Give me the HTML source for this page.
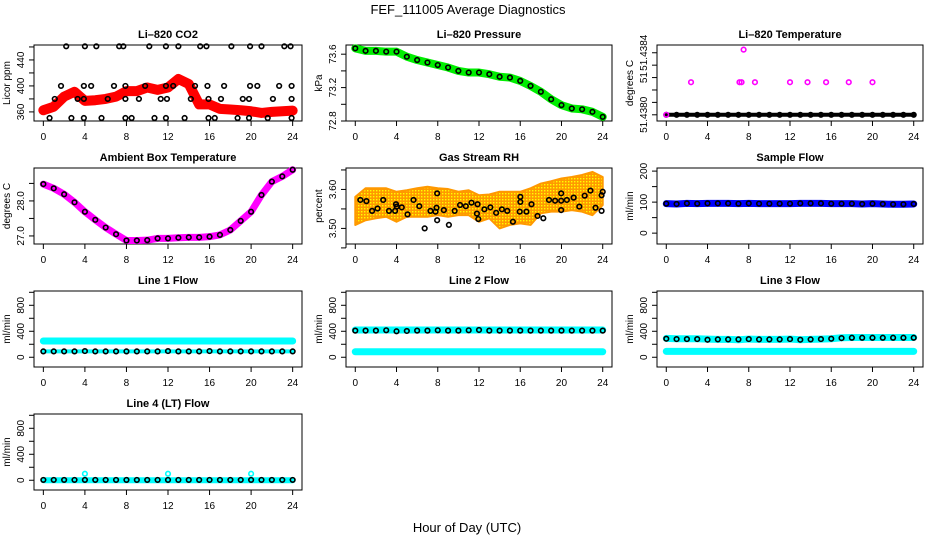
<!DOCTYPE html>
<html><head><meta charset="utf-8"><style>
body{margin:0;background:#fff}
svg{display:block;font-family:"Liberation Sans",sans-serif}
</style></head><body>
<svg id="c" width="936" height="540" viewBox="0 0 936 540">
<defs><pattern id="dots" width="3" height="3" patternUnits="userSpaceOnUse"><rect width="3" height="3" fill="#ff9900"/><rect x="1" y="1" width="1.4" height="1.4" fill="#ffff00"/></pattern></defs>
<text x="468" y="14" font-size="13" text-anchor="middle">FEF_111005  Average Diagnostics</text>
<text x="467" y="532" font-size="13" text-anchor="middle">Hour of Day (UTC)</text>
</svg>
<script>
const hours=[0,1,2,3,4,5,6,7,8,9,10,11,12,13,14,15,16,17,18,19,20,21,22,23,24];
const xTicks=[0,4,8,12,16,20,24];
const co2Red=[362.6,368,383.5,391,377,378,380,383.5,392,392,397.6,394,397.6,410.7,403,371.5,371.5,364.7,363.7,362.6,361,358.4,360,361,362];
const co2Hi=[2.2,4,5.1,7.3,7.7,10.2,11.8,13,15.1,15.7,18.1,19.9,21,23.2,23.8];
const co2Mid=[1.7,3.9,4.6,6.8,7.9,9.8,11.8,12.5,14.6,15.8,17.4,19.9,20.6,22.7,23.9];
const co2Low=[1.1,3.3,3.9,6.2,7.9,9.2,11.3,11.9,14.2,15.9,17.1,19.2,19.8,22.1,23.9];
const co2Bot=[0.6,2.7,3.9,5.6,7.9,8.5,10.7,11.8,13.6,15.9,16.5,18.7,19.8,21.6,23.9];
const co2Levels=[461,400,380,350.6];
const pressure=[73.67,73.64,73.64,73.63,73.63,73.57,73.53,73.50,73.47,73.44,73.40,73.38,73.38,73.36,73.33,73.32,73.28,73.22,73.15,73.06,72.99,72.95,72.94,72.91,72.85];
const licorTempBase=[51.4380,51.4380,51.4380,51.4380,51.4380,51.4380,51.4380,51.4380,51.4380,51.4380,51.4380,51.4380,51.4380,51.4380,51.4380,51.4380,51.4380,51.4380,51.4380,51.4380,51.4380,51.4380,51.4380,51.4380,51.4380];
const licorTempSpikeHours=[2.4,7.1,7.3,8.6,12,13.7,15.5,17.7,20,7.5];
const licorTempSpikeVals=[51.43821,51.43821,51.43821,51.43821,51.43821,51.43821,51.43821,51.43821,51.43821,51.43842];
const ambient=[28.48,28.36,28.19,27.96,27.69,27.46,27.24,27.05,26.87,26.87,26.88,26.93,26.93,26.95,26.96,26.96,26.98,27.03,27.17,27.43,27.69,28.17,28.55,28.70,28.89];
const rhUpper=[3.581,3.603,3.603,3.603,3.594,3.598,3.603,3.607,3.603,3.601,3.594,3.598,3.585,3.587,3.594,3.594,3.594,3.603,3.615,3.621,3.628,3.632,3.637,3.645,3.632];
const rhLower=[3.509,3.521,3.526,3.530,3.517,3.530,3.530,3.530,3.534,3.530,3.534,3.534,3.517,3.526,3.500,3.509,3.513,3.509,3.539,3.543,3.543,3.547,3.543,3.534,3.560];
const rhHours=[0.49,1.08,1.63,2.16,2.71,3.27,3.86,3.95,4.02,4.51,5.07,5.65,6.21,6.73,7.29,7.78,7.88,7.94,7.94,8.59,9.08,9.64,10.16,10.72,11.27,11.8,11.86,11.93,12.52,13.1,13.66,14.22,14.74,15.29,15.95,16.01,16.01,16.6,17.09,17.68,18.24,18.79,19.38,19.97,19.97,19.97,20.52,21.18,21.73,22.25,22.81,23.3,23.89,23.89,24.0];
const rhVals=[3.573,3.570,3.545,3.551,3.573,3.545,3.545,3.562,3.556,3.554,3.536,3.573,3.557,3.500,3.545,3.543,3.553,3.521,3.590,3.547,3.509,3.545,3.560,3.557,3.566,3.538,3.562,3.524,3.549,3.554,3.540,3.549,3.545,3.517,3.543,3.568,3.581,3.543,3.562,3.532,3.526,3.573,3.571,3.590,3.547,3.571,3.573,3.579,3.556,3.584,3.597,3.553,3.545,3.585,3.594];
const sampleFlow=[95,94,96,95,96,96,96,95,96,95,95,95,95,96,96,96,95,95,95,94,95,94,93,93,94];
const line1Cyan=[250,250,250,250,250,250,250,250,250,250,250,250,250,250,250,250,250,250,250,250,250,250,250,250,250];
const line1Black=[90,90,90,90,95,90,90,90,90,90,90,90,95,90,90,90,95,90,90,90,90,90,90,90,90];
const line2CyanHi=[420,420,420,420,420,420,420,420,420,420,420,420,420,420,420,420,420,420,420,420,420,420,420,420,420];
const line2CyanLo=[85,85,85,85,85,85,85,85,85,85,85,85,85,85,85,85,85,85,85,85,85,85,85,85,85];
const line2Black=[410,410,410,415,400,405,410,410,415,410,410,415,420,410,410,410,410,410,410,410,410,410,410,410,410];
const line3CyanHi=[290,285,285,285,280,275,275,270,280,275,275,275,280,270,275,280,285,300,305,305,305,305,305,305,305];
const line3CyanLo=[90,90,90,90,90,90,90,90,90,90,90,90,90,90,90,90,90,90,90,90,90,90,90,90,90];
const line3Black=[285,280,280,280,270,275,275,275,280,275,275,275,280,270,275,280,285,295,300,300,300,300,300,300,300];
const line4Cyan=[0,0,0,0,0,0,0,0,0,0,0,0,0,0,0,0,0,0,0,0,0,0,0,0,0];
const line4SpikeHours=[4,12,20];
const line4SpikeVals=[100,100,100];
const line4Black=[5,5,5,5,5,5,5,5,5,5,5,5,5,5,5,5,5,5,5,5,5,5,5,5,5];

const NS='http://www.w3.org/2000/svg';
const svg=document.getElementById('c');
function mk(tag,attrs,parent){const e=document.createElementNS(NS,tag);for(const k in attrs)e.setAttribute(k,attrs[k]);(parent||svg).appendChild(e);return e;}
const colL=[34,346,657],colR=[302,612,923],rowT=[45,168,291,414],H=76;

function panel(name,title,col,row,ymin,ymax,yticks,ylabels,ytitle){
  const g=mk('g',{});
  
  
  const L=colL[col],R=colR[col],T=rowT[row],B=T+H;
  const sx=h=>L+(R-L)*(h+0.9)/25.8;
  const sy=v=>B-(B-T)*(v-ymin)/(ymax-ymin);
  const t=mk('text',{x:(L+R)/2,y:T-7,'font-size':11,'font-weight':'bold','text-anchor':'middle'},g);
  t.textContent=title;
  
  
  const box=mk('rect',{x:L,y:T,width:R-L,height:H,fill:'none',stroke:'#000','stroke-width':1},g);
  
  
  xTicks.forEach(h=>{
    mk('line',{x1:sx(h),x2:sx(h),y1:B,y2:B+5,stroke:'#000'},g);
    const tl=mk('text',{x:sx(h),y:B+19,'font-size':10,'text-anchor':'middle'},g);
    tl.textContent=h;
    
    
  });
  mk('line',{x1:sx(0),x2:sx(24),y1:B,y2:B,stroke:'#000'},g);
  yticks.forEach((v,i)=>{
    const y=sy(v);
    mk('line',{x1:L-5,x2:L,y1:y,y2:y,stroke:'#000'},g);
    if(ylabels[i]){
      const yl=mk('text',{x:L-10,y:y,'font-size':10,'text-anchor':'middle',transform:`rotate(-90 ${L-10} ${y})`},g);
      yl.textContent=ylabels[i];
      
      
    }
  });
  mk('line',{x1:L,x2:L,y1:sy(yticks[0]),y2:sy(yticks[yticks.length-1]),stroke:'#000'},g);
  const yt=mk('text',{x:L-24,y:(T+B)/2,'font-size':10,'text-anchor':'middle',transform:`rotate(-90 ${L-24} ${(T+B)/2})`},g);
  yt.textContent=ytitle;
  
  
  return {g,sx,sy};
}
function band(p,xs,vals,color,w,nm){
  const pts=xs.map((h,i)=>p.sx(h)+','+p.sy(vals[i])).join(' ');
  const e=mk('polyline',{points:pts,fill:'none',stroke:color,'stroke-width':w,'stroke-linejoin':'round','stroke-linecap':'round'},p.g);
  
  
}
function circles(p,xs,vals,color,nm,r){
  xs.forEach((h,i)=>{
    const c=mk('circle',{cx:p.sx(h),cy:p.sy(vals[i]),r:r||2.3,fill:'none',stroke:color,'stroke-width':1.6},p.g);
    
    
  });
}
const flowTicks=[0,200,400,600,800,1000],flowLabels=['0','','400','','800',''];

let p=panel('co2-panel','Li\u2013820 CO2',0,0,346,463,[360,380,400,420,440,460],['360','','400','','440',''],'Licor ppm');
band(p,hours,co2Red,'#ff0000',10,'co2-series');
[co2Hi,co2Mid,co2Low,co2Bot].forEach((arr,k)=>circles(p,arr,arr.map(()=>co2Levels[k]),'#000','co2-point'));
p=panel('pressure-panel','Li\u2013820 Pressure',1,0,72.8,73.71,[72.8,73.0,73.2,73.4,73.6],['72.8','','73.2','','73.6'],'kPa');
band(p,hours,pressure,'#00ee00',8,'pressure-series');
circles(p,hours,pressure,'#000','pressure-point');
p=panel('licor-temp-panel','Li\u2013820 Temperature',2,0,51.43796,51.43845,[51.438,51.43808,51.43816,51.43824,51.43832,51.4384],['51.4380','','','51','','51.4384'],'degrees C');
band(p,hours,licorTempBase,'#000',4,'licor-temp-series');
circles(p,hours,licorTempBase,'#000','licor-temp-point');
circles(p,licorTempSpikeHours,licorTempSpikeVals,'#ff00ff','licor-temp-spike');
circles(p,[0],[51.4380],'#ff00ff','licor-temp-spike');
p=panel('ambient-temp-panel','Ambient Box Temperature',0,1,26.77,28.94,[27.0,27.5,28.0,28.5],['27.0','','28.0',''],'degrees C');
band(p,hours,ambient,'#ff00ff',7,'ambient-series');
circles(p,hours,ambient,'#000','ambient-point');
p=panel('rh-panel','Gas Stream RH',1,1,3.46,3.655,[3.45,3.50,3.55,3.60,3.65],['','3.50','','3.60',''],'percent');
{const pts=hours.map((h,i)=>p.sx(h)+','+p.sy(rhUpper[i])).concat(hours.slice().reverse().map((h,j)=>p.sx(h)+','+p.sy(rhLower[24-j])));
 const a=mk('polygon',{points:pts.join(' '),fill:'url(#dots)',stroke:'#ff9900','stroke-width':2,'stroke-linejoin':'round'},p.g);
 
 }
circles(p,rhHours,rhVals,'#000','rh-point');
p=panel('sample-flow-panel','Sample Flow',2,1,-35,210,[0,50,100,150,200],['0','','100','','200'],'ml/min');
band(p,hours,sampleFlow,'#0000ff',7,'sample-flow-series');
circles(p,hours,sampleFlow,'#000','sample-flow-point');
p=panel('line1-panel','Line 1 Flow',0,2,-150,1020,flowTicks,flowLabels,'ml/min');
band(p,hours,line1Cyan,'#00ffff',7,'line1-cyan-series');
band(p,hours,line1Black.map(()=>90),'#00ffff',4,'line1-cyan-low');
circles(p,hours,line1Black,'#000','line1-point');
p=panel('line2-panel','Line 2 Flow',1,2,-150,1020,flowTicks,flowLabels,'ml/min');
band(p,hours,line2CyanHi,'#00ffff',7,'line2-cyan-high');
band(p,hours,line2CyanLo,'#00ffff',7,'line2-cyan-low');
circles(p,hours,line2Black,'#000','line2-point');
p=panel('line3-panel','Line 3 Flow',2,2,-150,1020,flowTicks,flowLabels,'ml/min');
band(p,hours,line3CyanHi,'#00ffff',7,'line3-cyan-high');
band(p,hours,line3CyanLo,'#00ffff',7,'line3-cyan-low');
circles(p,hours,line3Black,'#000','line3-point');
p=panel('line4-panel','Line 4 (LT) Flow',0,3,-150,1020,flowTicks,flowLabels,'ml/min');
band(p,hours,line4Cyan,'#00ffff',6,'line4-cyan-series');
circles(p,line4SpikeHours,line4SpikeVals,'#00ffff','line4-spike');
circles(p,hours,line4Black,'#000','line4-point');
</script>
</body></html>
